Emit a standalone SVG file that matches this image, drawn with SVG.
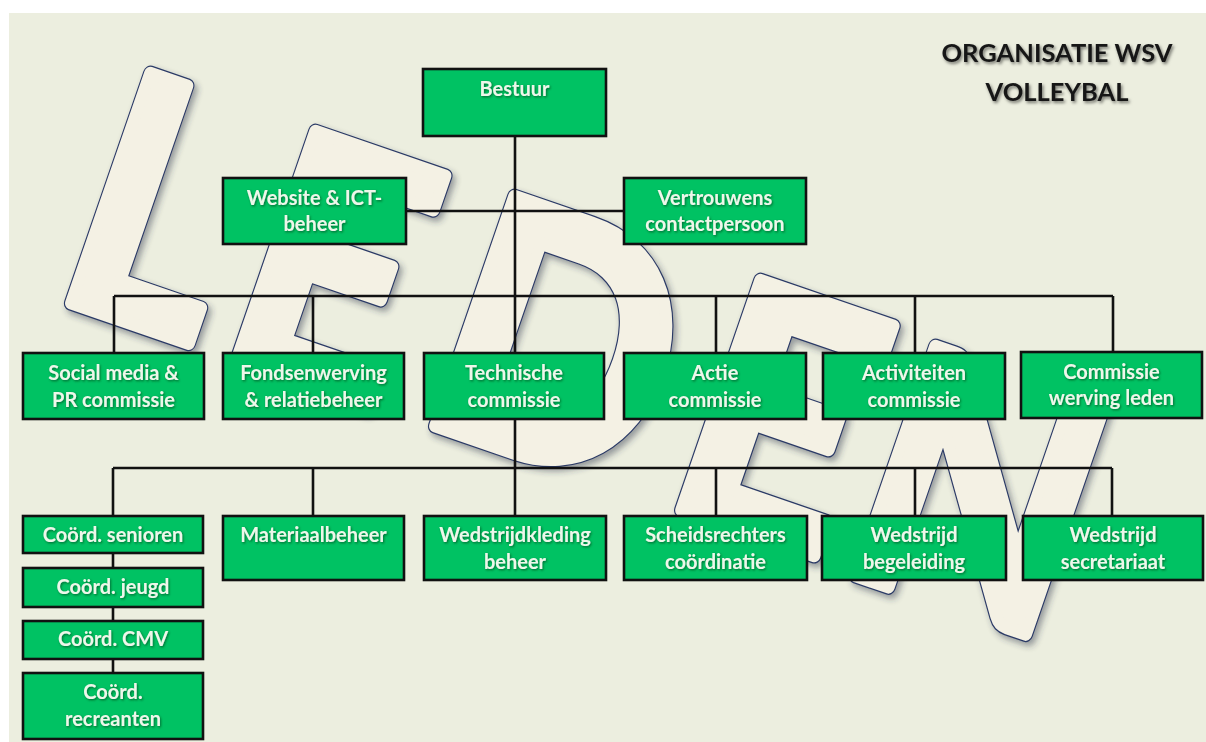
<svg xmlns="http://www.w3.org/2000/svg" width="1206" height="742" viewBox="0 0 1206 742">
<defs>
<filter id="lsh" x="-10%" y="-10%" width="130%" height="130%">
<feDropShadow dx="3" dy="4" stdDeviation="3" flood-color="#2a3248" flood-opacity="0.45"/>
</filter>
<filter id="tsh" x="-10%" y="-30%" width="120%" height="160%">
<feDropShadow dx="1" dy="1.2" stdDeviation="0.8" flood-color="#003010" flood-opacity="0.6"/>
</filter>
<filter id="hsh" x="-10%" y="-30%" width="120%" height="160%">
<feDropShadow dx="1.5" dy="2" stdDeviation="1.5" flood-color="#000" flood-opacity="0.5"/>
</filter>
<style>
.wm text{font-family:Lato,"Liberation Sans",sans-serif;font-weight:bold;font-size:336px}
.wo{fill:#2b3a66;stroke:#2b3a66;stroke-width:15.5;stroke-linejoin:round}
.wi{fill:#f4f1e4;stroke:#f4f1e4;stroke-width:13;stroke-linejoin:round}
.box{fill:#00c263;stroke:#111;stroke-width:2.6}
.lbl{font-family:Lato,"Liberation Sans",sans-serif;font-weight:bold;font-size:20px;fill:#eef7ea;text-anchor:middle;filter:url(#tsh)}
.con{stroke:#111;stroke-width:2.6;fill:none}
.title{font-family:Lato,"Liberation Sans",sans-serif;font-weight:bold;font-size:25.5px;fill:#161616;text-anchor:middle;filter:url(#hsh)}
</style>
</defs>
<rect x="0" y="0" width="1206" height="742" fill="#ffffff"/>
<rect x="9" y="13" width="1197" height="729" fill="#eceedf"/>

<g class="wm" id="watermark" filter="url(#lsh)">
<g transform="translate(60,307) rotate(19) scale(0.88,1)"><text class="wo" x="-17" y="-7.5">L</text><text class="wi" x="-17" y="-7.5">L</text></g>
<g transform="translate(225,365) rotate(19) scale(0.9,1)"><text class="wo" x="-17" y="-7.5">E</text><text class="wi" x="-17" y="-7.5">E</text></g>
<g transform="translate(424,430) rotate(19) scale(0.9,1)"><text class="wo" x="-17" y="-7.5">D</text><text class="wi" x="-17" y="-7.5">D</text></g>
<g transform="translate(670,514) rotate(19) scale(0.92,1)"><text class="wo" x="-17" y="-7.5">E</text><text class="wi" x="-17" y="-7.5">E</text></g>
<g transform="translate(845,580) rotate(19) scale(0.88,1)"><text class="wo" x="-17" y="-7.5">N</text><text class="wi" x="-17" y="-7.5">N</text></g>
</g>

<g id="connectors" class="con">
<path d="M515 136V516"/>
<path d="M406 211H624"/>
<path d="M114 296H1113M114 296V353M313 296V353M716 296V353M915 296V353M1113 296V353"/>
<path d="M113 468H1112M113 468V516M313 468V516M716 468V516M915 468V516M1112 468V516"/>
<path d="M113 553V568M113 607V621M113 659V673"/>
</g>

<g id="bestuur"><rect class="box" x="423" y="69" width="183" height="67"/><text class="lbl" x="514.5" y="96">Bestuur</text></g>
<g id="website"><rect class="box" x="223" y="178" width="183" height="66"/><text class="lbl" x="314.5" y="205">Website &amp; ICT-</text><text class="lbl" x="314.5" y="231">beheer</text></g>
<g id="vertrouwens"><rect class="box" x="624" y="178" width="182" height="66"/><text class="lbl" x="715" y="205">Vertrouwens</text><text class="lbl" x="715" y="231">contactpersoon</text></g>

<g id="social"><rect class="box" x="23" y="353" width="181" height="66"/><text class="lbl" x="113.5" y="380">Social  media &amp;</text><text class="lbl" x="113.5" y="407">PR commissie</text></g>
<g id="fondsen"><rect class="box" x="223" y="353" width="181" height="66"/><text class="lbl" x="313.5" y="380">Fondsenwerving</text><text class="lbl" x="313.5" y="407">&amp; relatiebeheer</text></g>
<g id="technische"><rect class="box" x="424" y="353" width="180" height="66"/><text class="lbl" x="514" y="380">Technische</text><text class="lbl" x="514" y="407">commissie</text></g>
<g id="actie"><rect class="box" x="624" y="353" width="182" height="66"/><text class="lbl" x="715" y="380">Actie</text><text class="lbl" x="715" y="407">commissie</text></g>
<g id="activiteiten"><rect class="box" x="823" y="353" width="182" height="66"/><text class="lbl" x="914" y="380">Activiteiten</text><text class="lbl" x="914" y="407">commissie</text></g>
<g id="werving"><rect class="box" x="1021" y="352" width="181" height="66"/><text class="lbl" x="1111.5" y="379">Commissie</text><text class="lbl" x="1111.5" y="405">werving leden</text></g>

<g id="senioren"><rect class="box" x="23" y="516" width="180" height="37"/><text class="lbl" x="113" y="542">Coörd. senioren</text></g>
<g id="jeugd"><rect class="box" x="23" y="568" width="180" height="39"/><text class="lbl" x="113" y="594">Coörd. jeugd</text></g>
<g id="cmv"><rect class="box" x="23" y="621" width="180" height="38"/><text class="lbl" x="113" y="646">Coörd. CMV</text></g>
<g id="recreanten"><rect class="box" x="23" y="673" width="180" height="66"/><text class="lbl" x="113" y="699">Coörd.</text><text class="lbl" x="113" y="726">recreanten</text></g>
<g id="materiaal"><rect class="box" x="223" y="516" width="181" height="64"/><text class="lbl" x="313.5" y="542">Materiaalbeheer</text></g>
<g id="kleding"><rect class="box" x="424" y="516" width="182" height="64"/><text class="lbl" x="515" y="542">Wedstrijdkleding</text><text class="lbl" x="515" y="569">beheer</text></g>
<g id="scheids"><rect class="box" x="624" y="516" width="183" height="64"/><text class="lbl" x="715.5" y="542">Scheidsrechters</text><text class="lbl" x="715.5" y="569">coördinatie</text></g>
<g id="begeleiding"><rect class="box" x="822" y="516" width="184" height="64"/><text class="lbl" x="914" y="542">Wedstrijd</text><text class="lbl" x="914" y="569">begeleiding</text></g>
<g id="secretariaat"><rect class="box" x="1023" y="516" width="180" height="64"/><text class="lbl" x="1113" y="542">Wedstrijd</text><text class="lbl" x="1113" y="569">secretariaat</text></g>

<g id="title"><text class="title" x="1057" y="62">ORGANISATIE WSV</text><text class="title" x="1057" y="101">VOLLEYBAL</text></g>
</svg>
